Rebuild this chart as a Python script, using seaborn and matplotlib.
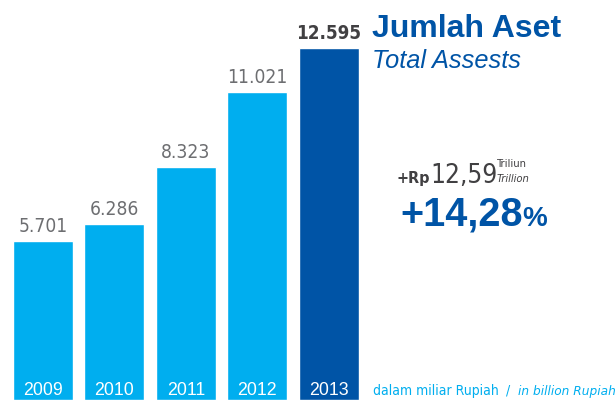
import matplotlib
matplotlib.use('Agg')
import matplotlib.pyplot as plt
import seaborn as sns
import pandas as pd

# Data
YEARS = ['2009', '2010', '2011', '2012', '2013']
ASSETS = [5701, 6286, 8323, 11021, 12595]
LABELS = ['5.701', '6.286', '8.323', '11.021', '12.595']

LIGHT = '#00aeef'
DARK = '#0054a6'
GREY = '#6d6e71'
INK = '#414042'

sns.set_style('white')
plt.rcParams['font.family'] = ['Liberation Sans', 'DejaVu Sans']
COND = dict(family='DejaVu Sans', fontstretch='condensed')

df = pd.DataFrame({'year': YEARS, 'assets': ASSETS})
palette = [LIGHT] * 4 + [DARK]

fig = plt.figure(figsize=(6.16, 4.0), dpi=100)
ax = fig.add_axes([0, 0, 370 / 616, 1])

sns.barplot(data=df, x='year', y='assets', hue='year', palette=palette,
            legend=False, width=0.84, saturation=1, ax=ax)

ax.set_xlim(-0.602, 4.58)
ax.set_ylim(0, 14311)
ax.axis('off')

# value labels above bars, year labels inside bars
for i, (v, lab) in enumerate(zip(ASSETS, LABELS)):
    last = i == len(ASSETS) - 1
    ax.text(i, v + 180, lab, ha='center', va='bottom',
            fontsize=13.5 if last else 13.8, color=INK if last else GREY,
            fontweight='bold' if last else 'normal', **COND)
    ax.text(i, 180, YEARS[i], ha='center', va='baseline', fontsize=12.8,
            color='white')

# titles and highlight text on the right
fig.text(372 / 616, 1 - 37 / 400, 'Jumlah Aset', fontsize=23, fontweight='bold',
         color=DARK, ha='left', va='baseline')
fig.text(372 / 616, 1 - 68 / 400, 'Total Assests', fontsize=18.3, style='italic',
         color=DARK, ha='left', va='baseline')

fig.text(396 / 616, 1 - 183 / 400, '+Rp', fontsize=11.5, fontweight='bold',
         color=INK, ha='left', va='baseline', **COND)
fig.text(430 / 616, 1 - 183 / 400, '12,59', fontsize=18.8,
         color=INK, ha='left', va='baseline', **COND)
fig.text(497 / 616, 1 - 167 / 400, 'Triliun', fontsize=8,
         color=INK, ha='left', va='baseline', **COND)
fig.text(497 / 616, 1 - 182 / 400, 'Trillion', fontsize=8, style='italic',
         color=INK, ha='left', va='baseline', **COND)
fig.text(400 / 616, 1 - 226 / 400, '+14,28', fontsize=28.5, fontweight='bold',
         color=DARK, ha='left', va='baseline')
fig.text(522 / 616, 1 - 226 / 400, '%', fontsize=20, fontweight='bold',
         color=DARK, ha='left', va='baseline')

fig.text(373 / 616, 1 - 395 / 400, 'dalam miliar Rupiah', fontsize=10,
         color=LIGHT, ha='left', va='baseline', **COND)
fig.text(506 / 616, 1 - 395 / 400, '/', fontsize=10,
         color=LIGHT, ha='left', va='baseline', **COND)
fig.text(518 / 616, 1 - 395 / 400, 'in billion Rupiah', fontsize=9.7,
         style='italic', color=LIGHT, ha='left', va='baseline', **COND)

fig.savefig('out.png', dpi=100)
